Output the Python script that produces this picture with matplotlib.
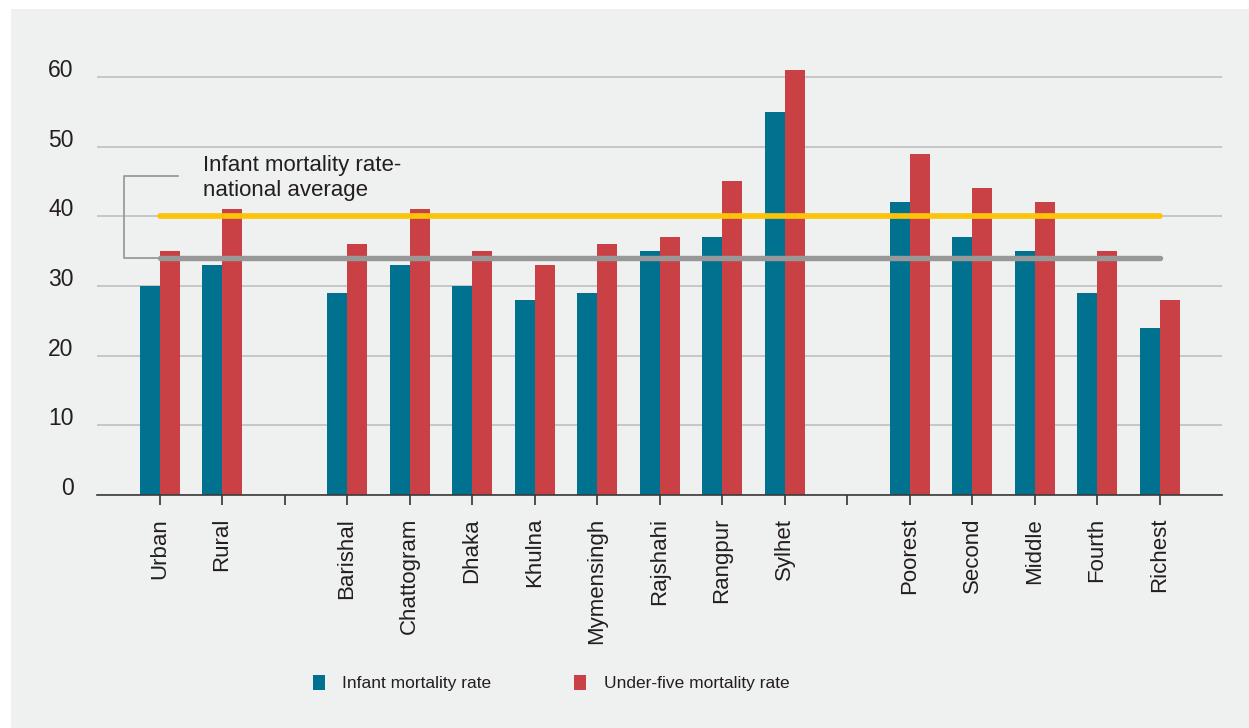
import matplotlib.pyplot as plt
from matplotlib import font_manager
from matplotlib.patches import Rectangle

# groups of categories (a blank slot is left between groups)
area = ['Urban', 'Rural']
division = ['Barishal', 'Chattogram', 'Dhaka', 'Khulna', 'Mymensingh', 'Rajshahi', 'Rangpur', 'Sylhet']
wealth = ['Poorest', 'Second', 'Middle', 'Fourth', 'Richest']

imr_area = [30, 33]
u5mr_area = [35, 41]
imr_division = [29, 33, 30, 28, 29, 35, 37, 55]
u5mr_division = [36, 41, 35, 33, 36, 37, 45, 61]
imr_wealth = [42, 37, 35, 29, 24]
u5mr_wealth = [49, 44, 42, 35, 28]

imr_national = 34
u5mr_national = 40

teal = '#00728f'
red = '#c94045'
yellow = '#fcc30b'
grey_line = '#989898'
panel = '#eff0f0'
text_col = '#231f20'

# figure out whether the narrow font exists
names = {f.name for f in font_manager.fontManager.ttflist}
narrow = 'Liberation Sans Narrow' in names
plt.rcParams['font.family'] = ['Liberation Sans', 'DejaVu Sans']

labels = area + [''] + division + [''] + wealth
imr = imr_area + [None] + imr_division + [None] + imr_wealth
u5mr = u5mr_area + [None] + u5mr_division + [None] + u5mr_wealth
pos = list(range(len(labels)))

fig = plt.figure(figsize=(12.49, 7.28), dpi=100, facecolor='white')
fig.patches.append(Rectangle((11 / 1249, 0), 1, 1 - 9 / 728, transform=fig.transFigure,
                             facecolor=panel, edgecolor='none', zorder=-10))
ax = fig.add_axes([97 / 1249, 1 - 495 / 728, (1222 - 97) / 1249, (495 - 49) / 728])
ax.set_facecolor('none')

px = [p for p, v in zip(pos, imr) if v is not None]
b1 = ax.bar([p - 0.16 for p in px], [v for v in imr if v is not None], width=0.32,
            color=teal, zorder=2, label='Infant mortality rate')
b2 = ax.bar([p + 0.16 for p in px], [v for v in u5mr if v is not None], width=0.32,
            color=red, zorder=2, label='Under-five mortality rate')

ax.plot([0, 16], [u5mr_national, u5mr_national], color=yellow, lw=4.1,
        solid_capstyle='round', zorder=3)
ax.plot([0, 16], [imr_national, imr_national], color=grey_line, lw=3.9,
        solid_capstyle='round', zorder=3)

# bracket + annotation for the national average
ax.plot([0.30, -0.576, -0.576, 0], [45.8, 45.8, imr_national, imr_national],
        color='#9a9a9a', lw=1.3, zorder=3)
ax.text(0.69, 48.8, 'Infant mortality rate-\nnational average', fontsize=16,
        color=text_col, va='top', ha='left', linespacing=1.25)

ax.set_xlim(-1, 17)
ax.set_ylim(0, 64)
ax.set_yticks([0, 10, 20, 30, 40, 50, 60])
ax.yaxis.grid(True, color='#c3c3c3', lw=1.3, zorder=0)
ax.set_axisbelow(True)
ax.set_xticks(pos)
ax.set_xticklabels(labels, rotation=90, fontsize=16, color=text_col)
ax.tick_params(axis='x', length=7.5, width=1.2, color='#333333', pad=9)
ax.tick_params(axis='y', length=0, pad=17, labelsize=16.5, labelcolor=text_col)
for t in ax.get_yticklabels():
    t.set_verticalalignment('baseline')

for s in ['top', 'right', 'left']:
    ax.spines[s].set_visible(False)
ax.spines['bottom'].set_color('#3a3a3a')
ax.spines['bottom'].set_linewidth(1.2)
ax.spines['bottom'].set_zorder(4)

if narrow:
    lfont = {'family': 'Liberation Sans Narrow', 'size': 15.5}
else:
    lfont = {'family': 'Liberation Sans', 'size': 12.5}
leg = fig.legend(handles=[b1, b2], loc='center left', bbox_to_anchor=(297 / 1249, 1 - 683 / 728),
                 ncol=2, frameon=False, prop=lfont, handlelength=0.69, handleheight=0.98,
                 handletextpad=1.0, columnspacing=4.8)
for t in leg.get_texts():
    t.set_color(text_col)

fig.savefig('out.png', dpi=100, facecolor=fig.get_facecolor())
